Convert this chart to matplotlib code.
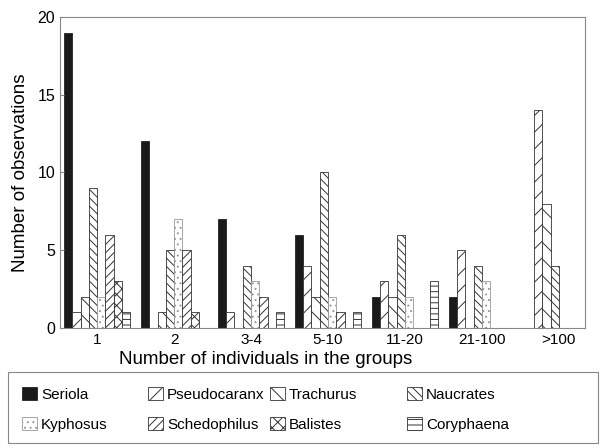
import numpy as np
import matplotlib as mpl
mpl.use('Agg')
import matplotlib.pyplot as plt
from matplotlib.patches import Patch, Rectangle

plt.rcParams['font.family'] = ['Liberation Sans', 'DejaVu Sans']
plt.rcParams['hatch.linewidth'] = 0.7

groups = ["1", "2", "3-4", "5-10", "11-20", "21-100", ">100"]
species = ["Seriola", "Pseudocaranx", "Trachurus", "Naucrates",
           "Kyphosus", "Schedophilus", "Balistes", "Coryphaena"]

seriola = [19, 12, 7, 6, 2, 2, 0]
pseudocaranx = [1, 0, 1, 4, 3, 5, 14]
trachurus = [2, 1, 0, 2, 2, 0, 8]
naucrates = [9, 5, 4, 10, 6, 4, 4]
kyphosus = [2, 7, 3, 2, 2, 3, 0]
schedophilus = [6, 5, 2, 1, 0, 0, 0]
balistes = [3, 1, 0, 0, 0, 0, 0]
coryphaena = [1, 0, 1, 1, 3, 0, 0]

series = [seriola, pseudocaranx, trachurus, naucrates,
          kyphosus, schedophilus, balistes, coryphaena]
hatches = [None, '//', '\\\\', '\\\\\\\\', '...', '////', 'xxx', '---']
edges = ['#222222', '#333333', '#333333', '#333333',
         '#999999', '#333333', '#333333', '#333333']

fig = plt.figure(figsize=(6.06, 4.48), dpi=100)
ax = fig.add_axes([0.099, 0.268, 0.866, 0.694])

step = 9.28
x0 = np.arange(len(groups)) * step
handles = []
for j, (name, vals, h, ec) in enumerate(zip(species, series, hatches, edges)):
    fc = '#1a1a1a' if h is None else 'white'
    ax.bar(x0 + j, vals, width=1.0, align='edge', facecolor=fc,
           edgecolor=ec, linewidth=0.6, hatch=h)
    handles.append(Patch(facecolor=fc, edgecolor=ec, linewidth=0.6,
                         hatch=h, label=name))

ax.set_xlim(-0.48, 62.8)
ax.set_ylim(0, 20)
ax.set_yticks([0, 5, 10, 15, 20])
ax.set_xticks(x0 + 4)
ax.set_xticklabels(groups)
ax.tick_params(axis='x', length=0, labelsize=11, pad=4)
ax.tick_params(axis='y', direction='in', length=3, labelsize=11.5,
               color='#888888')
for s in ax.spines.values():
    s.set_color('#888888')
    s.set_linewidth(0.8)

ax.set_ylabel("Number of observations", fontsize=13.5, labelpad=6)
W, H = 606.0, 448.0
fig.text(266 / W, (H - 359) / H, "Number of individuals in the groups",
         fontsize=13.5, ha='center', va='center')

# legend: one small legend per column inside a common frame
fig.patches.append(Rectangle((8 / W, 5 / H), 590 / W, 71 / H,
                             transform=fig.transFigure, fill=False,
                             edgecolor='#888888', linewidth=0.8))
col_x = [22, 148, 270, 407]
for c, xp in enumerate(col_x):
    idx = [c, c + 4]
    fig.legend([handles[i] for i in idx], [species[i] for i in idx],
               loc='upper left', bbox_to_anchor=(xp / W, (H - 387) / H),
               frameon=False, fontsize=11, handlelength=0.95,
               handleheight=0.95, handletextpad=0.3, borderpad=0,
               borderaxespad=0, labelspacing=1.0)

fig.savefig("out.png", dpi=100)
